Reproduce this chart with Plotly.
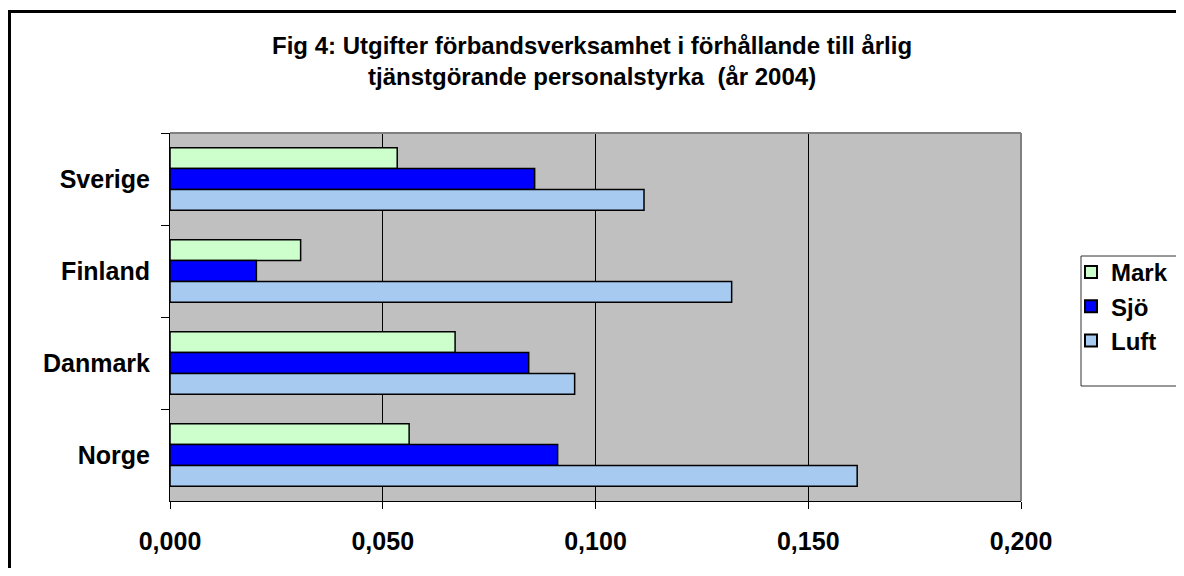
import plotly.graph_objects as go

categories = ["Sverige", "Finland", "Danmark", "Norge"]
series_names = ["Mark", "Sjö", "Luft"]
mark = [0.0534, 0.0307, 0.0670, 0.0562]
sjo = [0.0857, 0.0203, 0.0843, 0.0911]
luft = [0.1114, 0.1320, 0.0951, 0.1615]
x_ticks = [0.0, 0.05, 0.10, 0.15, 0.20]
title_text = "Fig 4: Utgifter förbandsverksamhet i förhållande till årlig<br>tjänstgörande personalstyrka  (år 2004)"

colors = ["#CCFFCC", "#0000FF", "#A6CAF0"]
FONT = "Liberation Sans, Arial, sans-serif"

fig = go.Figure()
for name, vals, col in zip(series_names, [mark, sjo, luft], colors):
    fig.add_trace(go.Bar(
        y=categories, x=vals, name=name, orientation="h",
        marker=dict(color=col, line=dict(color="black", width=1.5)),
    ))

# page body has an 8px margin: work in screen pixels, then shift
OFF = 8
W, H = 1184 - 2 * OFF, 576 - 2 * OFF
L, R, T, B = 170 - OFF, 1021 - OFF, 133 - OFF, 501 - OFF
pw, ph = R - L, B - T

def px(xs):
    return (xs - OFF - L) / pw

def py(ys):
    return (B - (ys - OFF)) / ph

fig.update_layout(
    width=W, height=H,
    margin=dict(l=L, r=W - R, t=T, b=H - B, autoexpand=False),
    paper_bgcolor="white",
    plot_bgcolor="#C0C0C0",
    barmode="group",
    bargap=0.32,
    bargroupgap=0,
    separators=", ",
    font=dict(family=FONT, color="black"),
    showlegend=True,
    legend=dict(
        x=px(1071), y=py(250), xanchor="left", yanchor="top",
        bgcolor="rgba(0,0,0,0)", borderwidth=0,
        font=dict(family=FONT, size=24, color="black", weight="bold"),
        itemsizing="constant", tracegroupgap=0,
    ),
    xaxis=dict(
        range=[0, 0.2], tickvals=x_ticks, tickformat=".3f",
        showgrid=True, gridcolor="black", gridwidth=1,
        zeroline=False,
        showline=True, linecolor="black", linewidth=1,
        ticks="outside", ticklen=7, tickcolor="black", tickwidth=1,
        ticklabelstandoff=11,
        tickfont=dict(family=FONT, size=25, color="black", weight="bold"),
        fixedrange=True,
    ),
    yaxis=dict(
        autorange="reversed",
        showgrid=False, zeroline=False,
        showline=True, linecolor="black", linewidth=1,
        ticks="outside", ticklen=8, tickcolor="black", tickwidth=1,
        tickson="boundaries",
        ticklabelstandoff=14,
        tickfont=dict(family=FONT, size=25, color="black", weight="bold"),
        fixedrange=True,
    ),
)

fig.add_annotation(
    text=title_text, xref="paper", yref="paper",
    x=px(592), y=py(61), xanchor="center", yanchor="middle",
    showarrow=False, align="center",
    font=dict(family=FONT, size=24, color="black", weight="bold"),
)

# plot area top/right border (grey)
fig.add_shape(type="line", xref="paper", yref="paper", x0=0, x1=1, y0=1, y1=1,
              line=dict(color="#808080", width=2))
fig.add_shape(type="line", xref="paper", yref="paper", x0=1, x1=1, y0=0, y1=1,
              line=dict(color="#808080", width=2))
# legend box (left, top, bottom edges; right side runs off the page)
fig.add_shape(type="rect", xref="paper", yref="paper",
              x0=px(1081), x1=px(1200), y0=py(386), y1=py(256),
              line=dict(width=0), fillcolor="white")
for (xa, ya, xb, yb) in [(1081, 256, 1200, 256), (1081, 386, 1200, 386), (1081, 256, 1081, 386)]:
    fig.add_shape(type="line", xref="paper", yref="paper",
                  x0=px(xa), x1=px(xb), y0=py(ya), y1=py(yb),
                  line=dict(color="#333333", width=1))
# outer chart border (left and top edges; the rest lies off the page)
fig.add_shape(type="line", xref="paper", yref="paper",
              x0=px(9.5), x1=px(9.5), y0=py(11), y1=py(600),
              line=dict(color="black", width=3))
fig.add_shape(type="line", xref="paper", yref="paper",
              x0=px(8), x1=px(1200), y0=py(11.5), y1=py(11.5),
              line=dict(color="black", width=3))

fig.write_html("out.html")
